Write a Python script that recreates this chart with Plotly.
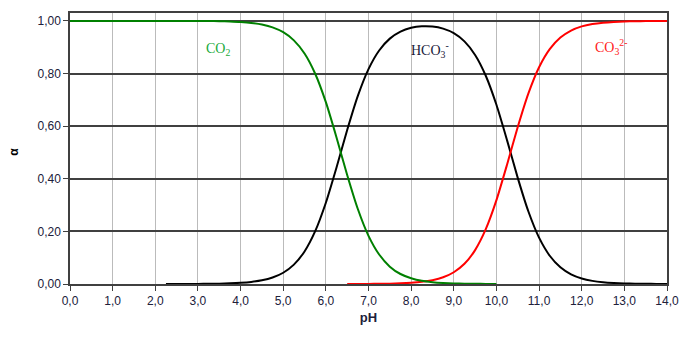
import plotly.graph_objects as go

ph = [i * 0.25 for i in range(57)]  # 0.0 .. 14.0

co2_ph = ph[:41]  # 0.0 .. 10.0
co2 = [1.0, 1.0, 1.0, 1.0, 1.0, 1.0, 1.0, 1.0, 1.0, 1.0, 1.0, 1.0, 1.0, 1.0, 0.999,
       0.9975, 0.9955, 0.992, 0.986, 0.9755, 0.957, 0.926, 0.876, 0.799, 0.691, 0.557,
       0.4145, 0.285, 0.183, 0.112, 0.066, 0.038, 0.022, 0.012, 0.007, 0.004, 0.002,
       0.001, 0.001, 0.0, 0.0]

hco3_ph = ph[9:]  # 2.25 .. 14.0
hco3 = [0.0001, 0.0001, 0.0003, 0.0004, 0.0008, 0.0014, 0.0025, 0.0045, 0.0079, 0.0139,
        0.0245, 0.0428, 0.0736, 0.1238, 0.2008, 0.3088, 0.4427, 0.5854, 0.7151, 0.8168,
        0.8875, 0.9326, 0.9592, 0.9736, 0.9795, 0.9786, 0.9706, 0.9533, 0.9221, 0.8706,
        0.7915, 0.6812, 0.5459, 0.4034, 0.2755, 0.1761, 0.1073, 0.0633, 0.0366, 0.0209,
        0.0119, 0.0067, 0.0038, 0.0021, 0.0012, 0.0007, 0.0004, 0.0002]

co3_ph = ph[26:]  # 6.5 .. 14.0
co3 = [0.0001, 0.0002, 0.0004, 0.0007, 0.0014, 0.0025, 0.0046, 0.0082, 0.0145, 0.0255,
       0.0446, 0.0767, 0.1288, 0.2082, 0.3186, 0.4541, 0.5966, 0.7245, 0.8239, 0.8927,
       0.9367, 0.9634, 0.9791, 0.9881, 0.9933, 0.9962, 0.9979, 0.9988, 0.9993, 0.9996,
       0.9998]

x_ticks = list(range(15))
y_ticks = [0.0, 0.2, 0.4, 0.6, 0.8, 1.0]

fig = go.Figure()
fig.add_trace(go.Scatter(x=hco3_ph, y=hco3, mode="lines",
                         line=dict(color="black", width=2, shape="spline", smoothing=0.6)))
fig.add_trace(go.Scatter(x=co3_ph, y=co3, mode="lines",
                         line=dict(color="#FF0000", width=2, shape="spline", smoothing=0.6)))
fig.add_trace(go.Scatter(x=co2_ph, y=co2, mode="lines",
                         line=dict(color="#008000", width=2, shape="spline", smoothing=0.6)))

serif = "Liberation Serif, Times New Roman, serif"
fig.add_annotation(x=3.47, y=0.89, text="CO<sub>2</sub>", showarrow=False,
                   font=dict(family=serif, size=14, color="#1AAA3A"))
fig.add_annotation(x=8.45, y=0.89, text="HCO<sub>3</sub><sup>-</sup>", showarrow=False,
                   font=dict(family=serif, size=14, color="#1A1A3A"))
fig.add_annotation(x=12.7, y=0.90, text="CO<sub>3</sub><sup>2-</sup>", showarrow=False,
                   font=dict(family=serif, size=14, color="#FF2020"))

fig.add_annotation(xref="paper", yref="paper", x=-0.093, y=0.49, text="<b>α</b>",
                   showarrow=False, textangle=-90, xanchor="center", yanchor="middle",
                   font=dict(family="Arial, Liberation Sans", size=12, color="black"))

fig.update_layout(
    width=679, height=337,
    margin=dict(l=62, r=20, t=3, b=61),
    paper_bgcolor="white", plot_bgcolor="white",
    showlegend=False,
    separators=", ",
    font=dict(family="Liberation Sans, Arial", size=12, color="#20203A"),
    xaxis=dict(range=[0, 14], tickvals=x_ticks, tickformat=".1f",
               showgrid=True, gridcolor="#BBBBBB", gridwidth=1,
               showline=True, linecolor="#404040", linewidth=1.5, mirror=True,
               ticks="outside", ticklen=5, tickcolor="#404040",
               title=dict(text="<b>pH</b>", standoff=6, font=dict(size=13, color="#20203A")),
               zeroline=False),
    yaxis=dict(range=[0, 1.03], tickvals=y_ticks, tickformat=".2f",
               showgrid=True, gridcolor="#404040", gridwidth=1.5,
               showline=True, linecolor="#404040", linewidth=1.5, mirror=True,
               ticks="outside", ticklen=5, tickcolor="#404040",
               zeroline=False),
)

fig.write_html("out.html")
